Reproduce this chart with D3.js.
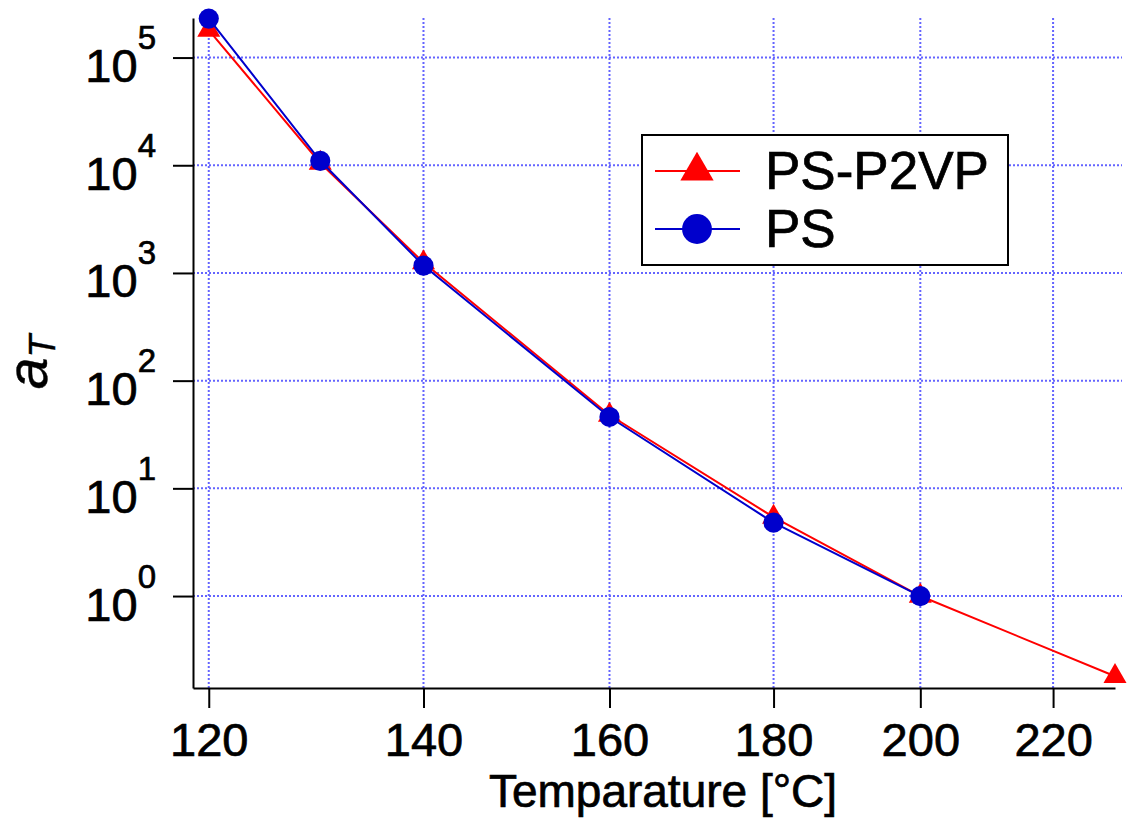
<!DOCTYPE html>
<html>
<head>
<meta charset="utf-8">
<script src="https://cdn.jsdelivr.net/npm/d3@7"></script>
<style>
	body { margin: 0; background: white; }
	text { font-family: "Liberation Sans", Arial, Helvetica, sans-serif; fill: black; stroke: black; stroke-width: 0.7px; }
</style>
</head>
<body>
<svg id="chart" width="1128" height="821"></svg>
<script>
// shift factors
const tempsP2VP = [120, 130, 140, 160, 180, 200, 230];
const aTP2VP    = [1.8e5, 1.05e4, 1.25e3, 48, 5.4, 1.0, 0.18];
const tempsPS   = [120, 130, 140, 160, 180, 200];
const aTPS      = [2.3e5, 1.1e4, 1.17e3, 46, 4.8, 1.0];
const xTicks    = [120, 140, 160, 180, 200, 220];
const yTicks    = [1, 10, 100, 1000, 1e4, 1e5];
const names     = ['PS-P2VP', 'PS'];

const RED = '#ff0000';
const BLUE = '#0000cc';
const GRID = '#6464ff';

const LEFT = 193, RIGHT = 1115, TOP = 18, BOTTOM = 688;

const svg = d3.select('#chart');

const x = d3.scaleLog().domain([118.65, 230]).range([LEFT, RIGHT]);
const y = d3.scaleLog().domain([0.14, 2.33e5]).range([BOTTOM, TOP]);

// dotted grid
const grid = svg.append('g')
	.attr('stroke', GRID)
	.attr('stroke-width', 2)
	.attr('stroke-dasharray', '2,2');
grid.selectAll('line.h').data(yTicks).enter().append('line')
	.attr('class', 'h')
	.attr('x1', LEFT).attr('x2', 1122)
	.attr('y1', d => y(d)).attr('y2', d => y(d));
grid.selectAll('line.v').data(xTicks).enter().append('line')
	.attr('class', 'v')
	.attr('x1', d => x(d)).attr('x2', d => x(d))
	.attr('y1', BOTTOM).attr('y2', TOP);

// axes
const gx = svg.append('g')
	.attr('transform', `translate(0,${BOTTOM})`)
	.call(d3.axisBottom(x).tickValues(xTicks).tickSize(20).tickSizeOuter(0).tickFormat(d3.format('d')));
gx.selectAll('text')
	.attr('y', 68).attr('dy', 0)
	.style('font-size', '47px');

const gy = svg.append('g')
	.attr('transform', `translate(${LEFT},0)`)
	.call(d3.axisLeft(y).tickValues(yTicks).tickSize(20).tickSizeOuter(0).tickFormat(''));
gy.selectAll('.tick text')
	.attr('x', -37).attr('dy', 24)
	.attr('text-anchor', 'end')
	.style('font-size', '47px')
	.each(function(d) {
		const t = d3.select(this);
		t.append('tspan').text('10');
		t.append('tspan').attr('dy', -33).style('font-size', '33px').text(Math.round(Math.log10(d)));
	});
svg.selectAll('.domain, .tick line').attr('stroke', 'black').attr('stroke-width', 2);

// series
const line = d3.line().x(d => x(d[0])).y(d => y(d[1]));
const tri = d3.symbol().type(d3.symbolTriangle);
const dot = d3.symbol().type(d3.symbolCircle);
const p2vp = d3.zip(tempsP2VP, aTP2VP);
const ps = d3.zip(tempsPS, aTPS);

svg.append('path').datum(p2vp)
	.attr('d', line).attr('fill', 'none').attr('stroke', RED).attr('stroke-width', 2);
svg.selectAll('path.tri').data(p2vp).enter().append('path')
	.attr('class', 'tri')
	.attr('d', tri.size(230))
	.attr('transform', d => `translate(${x(d[0])},${y(d[1])})`)
	.attr('fill', RED);

svg.append('path').datum(ps)
	.attr('d', line).attr('fill', 'none').attr('stroke', BLUE).attr('stroke-width', 2);
svg.selectAll('path.dot').data(ps).enter().append('path')
	.attr('class', 'dot')
	.attr('d', dot.size(320))
	.attr('transform', d => `translate(${x(d[0])},${y(d[1])})`)
	.attr('fill', BLUE);

// axis titles
svg.append('text')
	.attr('x', 663).attr('y', 807)
	.attr('text-anchor', 'middle')
	.style('font-size', '46px')
	.text('Temparature [°C]');

const yl = svg.append('text')
	.attr('transform', 'translate(47,362) rotate(-90)')
	.attr('text-anchor', 'middle')
	.style('font-style', 'italic')
	.style('stroke-width', '0.4px');
yl.append('tspan').style('font-size', '57px').text('a');
yl.append('tspan').attr('dy', 8).style('font-size', '37px').text('T');

// legend
const legend = svg.append('g').attr('transform', 'translate(642,135)');
legend.append('rect')
	.attr('width', 366).attr('height', 130)
	.attr('fill', 'white').attr('stroke', 'black').attr('stroke-width', 2);
const items = legend.selectAll('g.item').data(names).enter().append('g')
	.attr('class', 'item')
	.attr('transform', (d, i) => `translate(0,${36 + i * 58})`);
items.append('line')
	.attr('x1', 13).attr('x2', 98)
	.attr('stroke', (d, i) => i ? BLUE : RED).attr('stroke-width', 2);
items.append('path')
	.attr('d', (d, i) => i ? dot.size(700)() : tri.size(480)())
	.attr('transform', 'translate(55,0)')
	.attr('fill', (d, i) => i ? BLUE : RED);
items.append('text')
	.attr('x', 123).attr('y', 18)
	.style('font-size', '53px')
	.text(d => d);
</script>
</body>
</html>
